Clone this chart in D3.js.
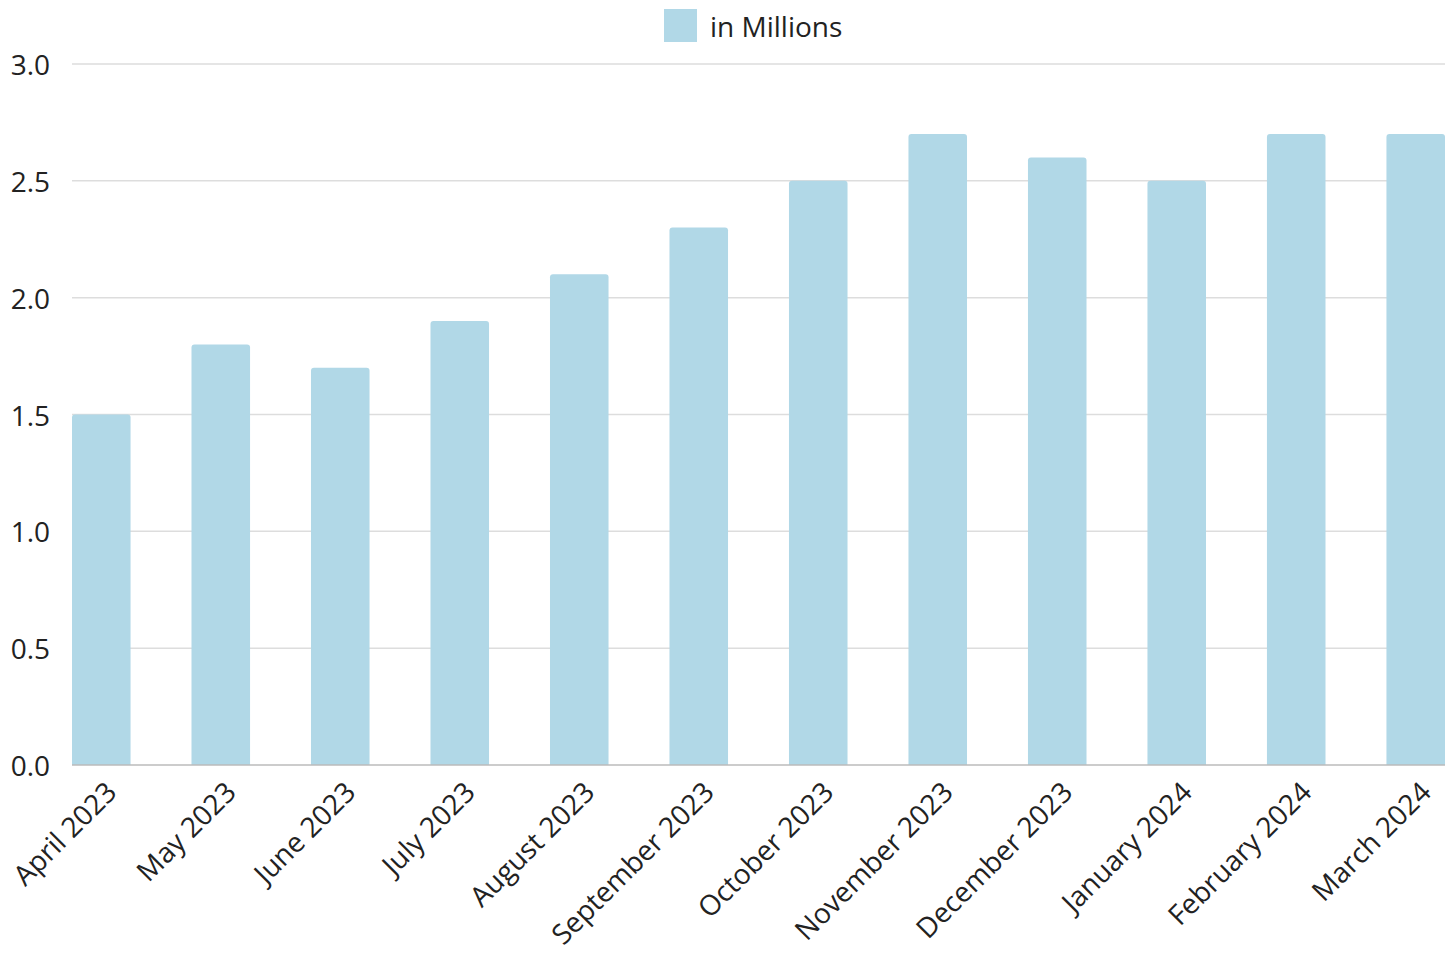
<!DOCTYPE html>
<html><head><meta charset="utf-8">
<script src="https://cdn.jsdelivr.net/npm/d3@7"></script>
<style>html,body{margin:0;padding:0;background:#fff;}svg{display:block;}</style>
</head><body>
<svg id="chart" width="1454" height="953"></svg>
<script>
const months = ["April 2023","May 2023","June 2023","July 2023","August 2023","September 2023","October 2023","November 2023","December 2023","January 2024","February 2024","March 2024"];
const values = [1.5,1.8,1.7,1.9,2.1,2.3,2.5,2.7,2.6,2.5,2.7,2.7];
const yTicks = [0,0.5,1.0,1.5,2.0,2.5,3.0];
const seriesName = "in Millions";

(function () {
const svg = d3.select("#chart");
const font = "'Open Sans', 'Noto Sans', sans-serif";
const fs = 28;
const pLeft = 72, pRight = 1445, pTop = 64, pBottom = 765;
const barColor = "#b1d8e7";

const x = d3.scaleBand().domain(months).range([pLeft, pRight]).paddingInner(0.51).paddingOuter(0);
const y = d3.scaleLinear().domain([0, 3]).range([pBottom, pTop]);

// gridlines
svg.append("g").selectAll("line").data(yTicks.filter(d => d > 0)).join("line")
  .attr("x1", pLeft).attr("x2", pRight)
  .attr("y1", d => y(d)).attr("y2", d => y(d))
  .attr("stroke", "#dddddd").attr("stroke-width", 1.5);

// y labels
svg.append("g").selectAll("text").data(yTicks).join("text")
  .attr("x", 50).attr("y", d => y(d))
  .attr("text-anchor", "end").attr("dominant-baseline", "central")
  .attr("font-family", font).attr("font-size", fs).attr("fill", "#222")
  .text(d => d3.format(".1f")(d));

// bars with slightly rounded top corners
const r = 3;
svg.append("g").selectAll("path").data(values).join("path")
  .attr("fill", barColor)
  .attr("d", (d, i) => {
    const x0 = x(months[i]), w = x.bandwidth(), y0 = y(d), yb = y(0);
    return `M${x0},${yb}V${y0 + r}Q${x0},${y0} ${x0 + r},${y0}H${x0 + w - r}Q${x0 + w},${y0} ${x0 + w},${y0 + r}V${yb}Z`;
  });

// baseline
svg.append("line").attr("x1", pLeft).attr("x2", pRight)
  .attr("y1", y(0)).attr("y2", y(0)).attr("stroke", "#bbbbbb").attr("stroke-width", 1.5);

// x labels
svg.append("g").selectAll("text").data(months).join("text")
  .attr("transform", d => `translate(${x(d) + x.bandwidth() / 2 + 17},${pBottom + 29}) rotate(-45)`)
  .attr("text-anchor", "end")
  .attr("font-family", font).attr("font-size", fs).attr("fill", "#222")
  .text(d => d);

// legend
const lg = svg.append("g");
lg.append("rect").attr("x", 664).attr("y", 9).attr("width", 33).attr("height", 33).attr("fill", barColor);
lg.append("text").attr("x", 710).attr("y", 26).attr("dominant-baseline", "central")
  .attr("font-family", font).attr("font-size", fs).attr("fill", "#222").text(seriesName);
})();
</script>
</body></html>
